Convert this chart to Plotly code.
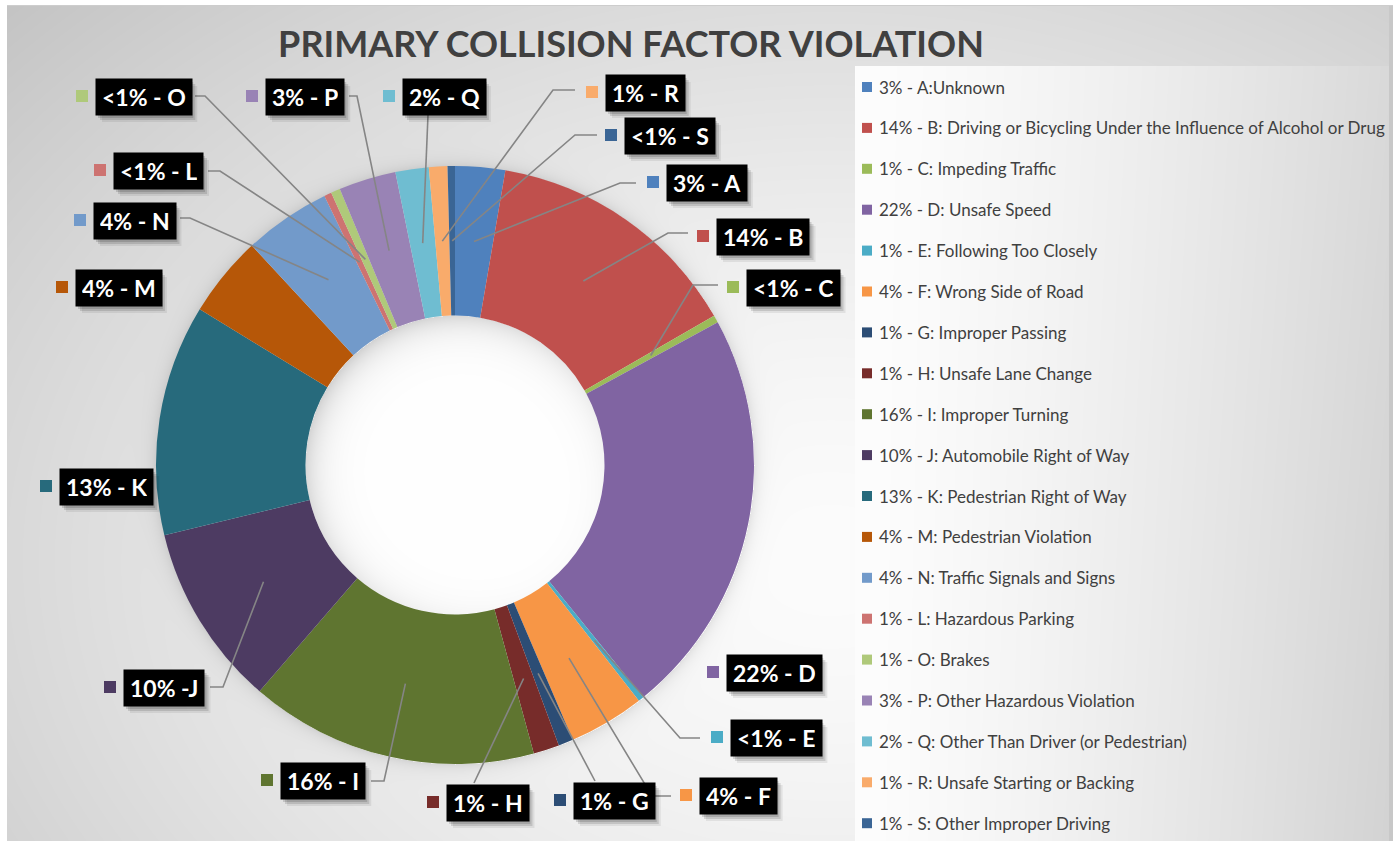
import base64, struct, zlib
import numpy as np
import plotly.graph_objects as go

# ---------------- data ----------------
letters = ["A", "B", "C", "D", "E", "F", "G", "H", "I", "J", "K", "M", "N", "L", "O", "P", "Q", "R", "S"]
values = [2.7, 14.0, 0.4, 22.1, 0.3, 4.1, 0.8, 1.4, 15.6, 9.9, 12.5, 4.4, 4.7, 0.4, 0.5, 3.1, 1.8, 1.0, 0.4]
slice_labels = ["3% - A", "14% - B", "<1% - C", "22% - D", "<1% - E", "4% - F", "1% - G", "1% - H",
                "16% - I", "10% -J", "13% - K", "4% - M", "4% - N", "<1% - L", "<1% - O", "3% - P",
                "2% - Q", "1% - R", "<1% - S"]
legend_labels = [
    "3% - A:Unknown",
    "14% - B: Driving or Bicycling Under the Influence of Alcohol or Drug",
    "1% - C: Impeding Traffic",
    "22% - D: Unsafe Speed",
    "1% - E: Following Too Closely",
    "4% - F: Wrong Side of Road",
    "1% - G: Improper Passing",
    "1% - H: Unsafe Lane Change",
    "16% - I: Improper Turning",
    "10% - J: Automobile Right of Way",
    "13% - K: Pedestrian Right of Way",
    "4% - M: Pedestrian Violation",
    "4% - N: Traffic Signals and Signs",
    "1% - L: Hazardous Parking",
    "1% - O: Brakes",
    "3% - P: Other Hazardous Violation",
    "2% - Q: Other Than Driver (or Pedestrian)",
    "1% - R: Unsafe Starting or Backing",
    "1% - S: Other Improper Driving",
]
colors = ["#4F81BD", "#C0504D", "#9BBB59", "#8064A2", "#4BACC6", "#F79646", "#2C4D75", "#772C2A",
          "#5F7530", "#4D3B62", "#276A7C", "#B65708", "#729ACA", "#CD7371", "#AFC97A", "#9983B5",
          "#6FBDD1", "#F9AB6B", "#3A6595"]
title_text = "PRIMARY COLLISION FACTOR VIOLATION"

# ---------------- layout constants (pixels) ----------------
W, H = 1400, 841
CX, CY, R = 455, 465, 299
HOLE = 0.5
FONT = "Lato"
LBL_SIZE = 23
LBL_PAD = 6
LBL_TEXT_H = 24

# label square position and leader-line tail (elbow / end points) per slice
label_pos = {
    "A": (653, 182), "B": (703, 236), "C": (733, 287), "D": (713, 672), "E": (717, 737),
    "F": (686, 795), "G": (560, 800), "H": (433, 802), "I": (267, 780), "J": (110, 687),
    "K": (46, 486), "M": (62, 287), "N": (80, 220), "L": (100, 170), "O": (82, 96),
    "P": (252, 96), "Q": (389, 96), "R": (592, 92), "S": (611, 135),
}
leader_tail = {
    "A": [(620, 183), (636, 183)], "B": [(668, 233), (688, 233)], "C": [(693, 285), (718, 285)],
    "E": [(680, 738), (700, 738)], "F": [(652, 796), (671, 796)], "G": [(595, 781)],
    "H": [(474, 783)], "I": [(384, 781), (371, 781)], "J": [(223, 687), (210, 687)],
    "N": [(190, 218), (180, 218)], "L": [(220, 171), (208, 171)], "O": [(205, 96), (195, 96)],
    "P": [(357, 96), (349, 96)], "Q": [(428, 115)], "R": [(553, 90), (575, 90)],
    "S": [(575, 135), (597, 135)],
}

# approximate glyph widths (em) of bold Lato, used only to size the label drop shadows
EM = {"%": 0.80, " ": 0.26, "-": 0.36, "<": 0.58, "A": 0.69, "B": 0.66, "C": 0.66, "D": 0.74,
      "E": 0.57, "F": 0.55, "G": 0.73, "H": 0.76, "I": 0.30, "J": 0.40, "K": 0.69, "L": 0.51,
      "M": 0.91, "N": 0.76, "O": 0.78, "P": 0.62, "Q": 0.78, "R": 0.64, "S": 0.55}


def text_w(s, size):
    return sum(EM.get(ch, 0.58) for ch in s) * size


# ---------------- background image ----------------
yy, xx = np.mgrid[0:H, 0:W].astype(float)
d = np.sqrt(((xx - 830) / 900.0) ** 2 + ((yy - 560) / 650.0) ** 2)
bg = 252 - 40 * d ** 1.5
panel = (xx >= 855) & (yy >= 66)
t = np.clip((xx - 855) / 536.0, 0, 1)
pv = 253 - 36 * t ** 1.4 - 6 * np.clip((yy - 66) / 775.0, 0, 1) * t
bg = np.where(panel, pv, bg)
rr = np.sqrt((xx - CX) ** 2 + (yy - CY) ** 2)
ang = np.arctan2(yy - CY, xx - CX)
dirf = 0.55 + 0.45 * np.cos(ang - np.arctan2(-1, -1))
rin = R * HOLE
bg = np.where(rr < rin, 255 - 45 * np.exp(-(rin - rr) / 16.0) * dirf, bg)
bg = np.where(rr > R, bg - 22 * np.exp(-(rr - R) / 7.0), bg)
bg = np.where((xx < 7) | (yy < 5) | (xx > 1392), 255, bg)
bg = np.where(((xx >= 1389) & (xx <= 1392)) & (yy >= 5), 200, bg)
bg = np.where((yy == 5) & (xx >= 7) & (xx <= 1392), 205, bg)
img = np.clip(bg, 0, 255).astype(np.uint8)


def png_gray(arr):
    h, w = arr.shape
    raw = b"".join(b"\x00" + arr[i].tobytes() for i in range(h))

    def chunk(tag, data):
        c = struct.pack(">I", len(data)) + tag + data
        return c + struct.pack(">I", zlib.crc32(tag + data) & 0xFFFFFFFF)

    return (b"\x89PNG\r\n\x1a\n" + chunk(b"IHDR", struct.pack(">IIBBBBB", w, h, 8, 0, 0, 0, 0))
            + chunk(b"IDAT", zlib.compress(raw, 9)) + chunk(b"IEND", b""))


bg_uri = "data:image/png;base64," + base64.b64encode(png_gray(img)).decode()

# ---------------- figure ----------------
fig = go.Figure()

fig.add_trace(go.Pie(
    values=values, labels=letters, marker=dict(colors=colors, line=dict(width=0)),
    hole=HOLE, sort=False, direction="clockwise", rotation=0,
    textinfo="none", hoverinfo="skip", showlegend=False,
    domain=dict(x=[(CX - R) / W, (CX + R) / W], y=[1 - (CY + R) / H, 1 - (CY - R) / H]),
))

total = float(sum(values))
cum = np.cumsum([0] + values)
rmid = R * (1 + HOLE) / 2
shapes = []
annotations = []
for i, let in enumerate(letters):
    frac = (cum[i] + cum[i + 1]) / 2 / total
    th = 2 * np.pi * frac
    axp = CX + rmid * np.sin(th)
    ayp = CY - rmid * np.cos(th)
    if let in leader_tail:
        pts = [(axp, ayp)] + leader_tail[let]
        path = "M " + " L ".join(f"{px:.1f},{py:.1f}" for px, py in pts)
        shapes.append(dict(type="path", path=path, xref="x", yref="y",
                           line=dict(color="#858585", width=1.6), layer="above"))
    sx, sy = label_pos[let]
    bx0 = sx + 13
    bw = text_w(slice_labels[i], LBL_SIZE) + 2 * LBL_PAD
    bh = LBL_TEXT_H + 2 * LBL_PAD
    for off, alpha in ((7, 0.07), (5, 0.12), (3, 0.14)):
        shapes.append(dict(type="rect", xref="x", yref="y", layer="above",
                           x0=bx0 + off, x1=bx0 + bw + off, y0=sy + 1 - bh / 2 + off, y1=sy + 1 + bh / 2 + off,
                           fillcolor=f"rgba(0,0,0,{alpha})", line=dict(width=0)))
    annotations.append(dict(x=bx0, y=sy + 1, xref="x", yref="y", xanchor="left", yanchor="middle",
                            text="<b>" + slice_labels[i].replace("<", "&lt;") + "</b>", showarrow=False,
                            font=dict(family=FONT, size=LBL_SIZE, color="white"),
                            height=LBL_TEXT_H, valign="middle",
                            bgcolor="black", borderpad=LBL_PAD))

fig.add_trace(go.Scatter(
    x=[label_pos[l][0] for l in letters], y=[label_pos[l][1] for l in letters],
    mode="markers", marker=dict(symbol="square", size=12, color=colors, line=dict(width=0)),
    hoverinfo="skip", showlegend=False))

leg_y = [87 + 40.9 * i for i in range(len(letters))]
fig.add_trace(go.Scatter(
    x=[867] * len(letters), y=leg_y, mode="markers",
    marker=dict(symbol="square", size=10, color=colors, line=dict(width=0)),
    hoverinfo="skip", showlegend=False))
for i, lab in enumerate(legend_labels):
    annotations.append(dict(x=877, y=leg_y[i], xref="x", yref="y", xanchor="left", yanchor="middle",
                            text=lab, showarrow=False, font=dict(family=FONT, size=17, color="#404040")))

fig.update_layout(
    width=W, height=H, margin=dict(l=0, r=0, t=0, b=0),
    paper_bgcolor="white", plot_bgcolor="rgba(0,0,0,0)",
    xaxis=dict(range=[0, W], visible=False, fixedrange=True, domain=[0, 1]),
    yaxis=dict(range=[H, 0], visible=False, fixedrange=True, domain=[0, 1]),
    title=dict(text="<b>" + title_text + "</b>", x=631 / W, y=1 - 44 / H, xanchor="center", yanchor="middle",
               font=dict(family=FONT, size=36, color="#404040")),
    images=[dict(source=bg_uri, xref="paper", yref="paper", x=0, y=1, sizex=1, sizey=1,
                 sizing="stretch", xanchor="left", yanchor="top", layer="below")],
    shapes=shapes, annotations=annotations, showlegend=False,
)

fig.write_html("out.html", config={"displayModeBar": False},
               post_script="document.body.style.margin='0';document.body.style.overflow='hidden';")
